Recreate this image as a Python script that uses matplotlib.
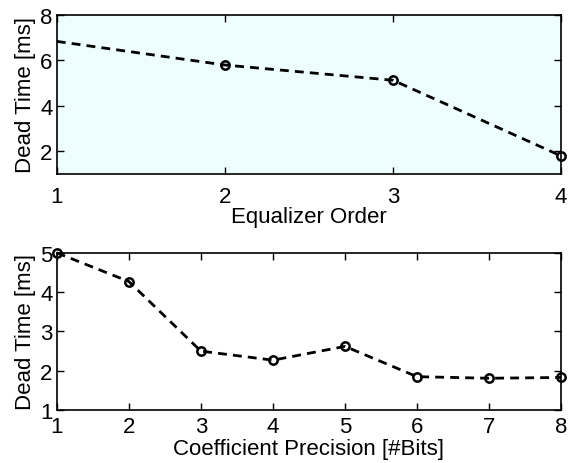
import matplotlib
matplotlib.use("Agg")
import matplotlib.pyplot as plt

plt.rcParams['font.family'] = ['Liberation Sans', 'DejaVu Sans']

eq_order = [1, 2, 3, 4]
eq_dead_time = [6.83, 5.79, 5.12, 1.79]

bits = [1, 2, 3, 4, 5, 6, 7, 8]
bits_dead_time = [5.0, 4.27, 2.50, 2.27, 2.62, 1.85, 1.81, 1.83]

fig = plt.figure(figsize=(5.68, 4.64), dpi=100)
fs = 16

ax1 = fig.add_axes([0.100, 0.623, 0.888, 0.343])
ax1.set_facecolor('#EEFEFE')
ax1.plot(eq_order, eq_dead_time, color='black', linestyle=(0, (3.2, 2.2)), linewidth=2,
         marker='o', markersize=6, markerfacecolor='none', markeredgewidth=1.8,
         markevery=[1, 2, 3], clip_on=False, zorder=5)
ax1.set_xlim(1, 4)
ax1.set_ylim(1, 8)
ax1.set_xticks([1, 2, 3, 4])
ax1.set_yticks([2, 4, 6, 8])
ax1.set_xlabel('Equalizer Order', fontsize=fs, labelpad=-1)
ax1.set_ylabel('Dead Time [ms]', fontsize=fs, labelpad=3)

ax2 = fig.add_axes([0.100, 0.114, 0.888, 0.339])
ax2.plot(bits, bits_dead_time, color='black', linestyle=(0, (3.2, 2.2)), linewidth=2,
         marker='o', markersize=6, markerfacecolor='none', markeredgewidth=1.8,
         clip_on=False, zorder=5)
ax2.set_xlim(1, 8)
ax2.set_ylim(1, 5)
ax2.set_xticks(bits)
ax2.set_yticks([1, 2, 3, 4, 5])
ax2.set_xlabel('Coefficient Precision [#Bits]', fontsize=fs, labelpad=1)
ax2.set_ylabel('Dead Time [ms]', fontsize=fs, labelpad=3)

for ax in (ax1, ax2):
    ax.tick_params(direction='in', top=True, right=True, labelsize=fs, length=5,
                   width=1)
    ax.tick_params(axis='y', pad=3)
    for s in ax.spines.values():
        s.set_linewidth(1.2)
ax1.tick_params(axis='x', pad=9)
ax2.tick_params(axis='x', pad=4)

fig.savefig('out.png', dpi=100)
